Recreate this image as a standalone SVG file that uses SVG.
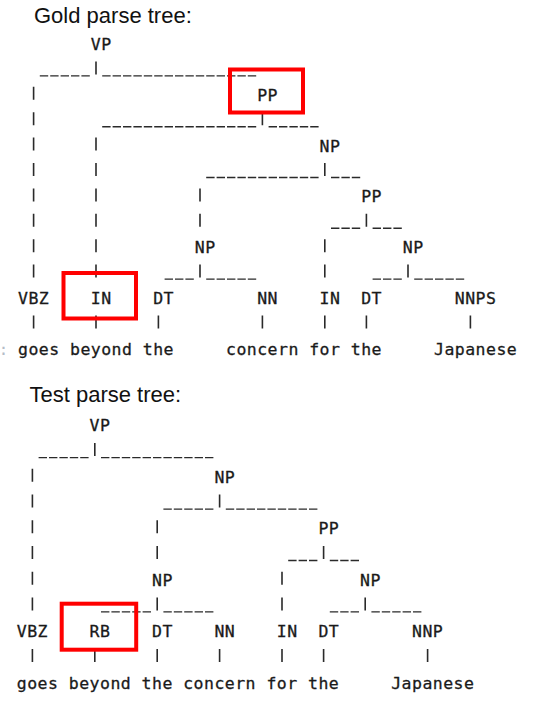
<svg xmlns="http://www.w3.org/2000/svg" width="535" height="704" viewBox="0 0 535 704">
<style>
.h{font-family:"Liberation Sans",Arial,sans-serif;font-size:22px;fill:#111}
.t{font-family:"DejaVu Sans Mono","Liberation Mono",monospace;font-size:16.5px;letter-spacing:0.47px;fill:#1a1a1a;stroke:#1a1a1a;stroke-width:0.3}
.pipe{stroke:#2a2a2a;stroke-width:1.6;fill:none}
.us{stroke:#2a2a2a;stroke-width:1.4;fill:none;stroke-dasharray:8.4 2}
.box{fill:none;stroke:#ff0000;stroke-width:4}
</style>
<rect width="535" height="704" fill="#ffffff"/>
<text class="h" x="34" y="23">Gold parse tree:</text>
<text class="h" x="29.5" y="402">Test parse tree:</text>

<g id="gold-connectors">
<path class="pipe" d="M96 61.4v13 M33.6 86.8v13 M33.6 112.2v13 M262.4 112.2v13 M33.6 137.6v13 M96 137.6v13 M33.6 163v13 M96 163v13 M324.8 163v13 M33.6 188.4v13 M96 188.4v13 M200 188.4v13 M33.6 213.8v13 M96 213.8v13 M200 213.8v13 M366.4 213.8v13 M33.6 239.2v13 M96 239.2v13 M324.8 239.2v13 M33.6 264.6v13 M96 264.6v13 M324.8 264.6v13 M200 264.6v13 M408 264.6v13 M33.6 315.4v13 M96 315.4v13 M158.4 315.4v13 M262.4 315.4v13 M324.8 315.4v13 M366.4 315.4v13 M470.4 315.4v13"/>
<path class="us" d="M39.8 75.9H89.8 M102.2 75.9H256.2 M102.2 126.7H256.2 M268.6 126.7H318.6 M206.2 177.5H318.6 M331 177.5H360.2 M331 228.3H360.2 M372.6 228.3H401.8 M164.6 279.1H193.8 M206.2 279.1H256.2 M372.6 279.1H401.8 M414.2 279.1H464.2"/>
</g>

<g id="gold-nodes">
<g id="g-vp"><text class="t" x="90.8" y="50">VP</text></g>
<g id="g-pp1"><text class="t" x="257.2" y="100.8">PP</text></g>
<g id="g-np1"><text class="t" x="319.6" y="151.6">NP</text></g>
<g id="g-pp2"><text class="t" x="361.2" y="202.4">PP</text></g>
<g id="g-np2"><text class="t" x="194.8" y="253.2">NP</text></g>
<g id="g-np3"><text class="t" x="402.8" y="253.2">NP</text></g>
<g id="g-vbz"><text class="t" x="18" y="304">VBZ</text></g>
<g id="g-in1"><text class="t" x="90.8" y="304">IN</text></g>
<g id="g-dt1"><text class="t" x="153.2" y="304">DT</text></g>
<g id="g-nn"><text class="t" x="257.2" y="304">NN</text></g>
<g id="g-in2"><text class="t" x="319.6" y="304">IN</text></g>
<g id="g-dt2"><text class="t" x="361.2" y="304">DT</text></g>
<g id="g-nnps"><text class="t" x="454.8" y="304">NNPS</text></g>
<g id="g-w-colon"><text class="t" x="-1.5" y="354.8" style="fill:#b4bcc8;stroke:none">:</text></g>
<g id="g-w1"><text class="t" x="18" y="354.8">goes</text></g>
<g id="g-w2"><text class="t" x="70" y="354.8">beyond</text></g>
<g id="g-w3"><text class="t" x="142.8" y="354.8">the</text></g>
<g id="g-w4"><text class="t" x="226" y="354.8">concern</text></g>
<g id="g-w5"><text class="t" x="309.2" y="354.8">for</text></g>
<g id="g-w6"><text class="t" x="350.8" y="354.8">the</text></g>
<g id="g-w7"><text class="t" x="434" y="354.8">Japanese</text></g>
</g>

<g id="test-connectors">
<path class="pipe" d="M94.8 443.1v13 M32.4 468.8v13 M32.4 494.6v13 M219.6 494.6v13 M32.4 520.3v13 M157.2 520.3v13 M32.4 546v13 M157.2 546v13 M323.6 546v13 M32.4 571.7v13 M282 571.7v13 M32.4 597.4v13 M282 597.4v13 M157.2 597.4v13 M365.2 597.4v13 M32.4 648.9v13 M94.8 648.9v13 M157.2 648.9v13 M219.6 648.9v13 M282 648.9v13 M323.6 648.9v13 M427.6 648.9v13"/>
<path class="us" d="M38.6 457.6H88.6 M101 457.6H213.4 M163.4 509.1H213.4 M225.8 509.1H317.4 M288.2 560.5H317.4 M329.8 560.5H359 M101 611.9H151 M163.4 611.9H213.4 M329.8 611.9H359 M371.4 611.9H421.4"/>
</g>

<g id="test-nodes">
<g id="t-vp"><text class="t" x="89.6" y="431.4">VP</text></g>
<g id="t-np1"><text class="t" x="214.4" y="482.8">NP</text></g>
<g id="t-pp"><text class="t" x="318.4" y="534.3">PP</text></g>
<g id="t-np2"><text class="t" x="152" y="585.7">NP</text></g>
<g id="t-np3"><text class="t" x="360" y="585.7">NP</text></g>
<g id="t-vbz"><text class="t" x="16.8" y="637.2">VBZ</text></g>
<g id="t-rb"><text class="t" x="89.6" y="637.2">RB</text></g>
<g id="t-dt1"><text class="t" x="152" y="637.2">DT</text></g>
<g id="t-nn"><text class="t" x="214.4" y="637.2">NN</text></g>
<g id="t-in"><text class="t" x="276.8" y="637.2">IN</text></g>
<g id="t-dt2"><text class="t" x="318.4" y="637.2">DT</text></g>
<g id="t-nnp"><text class="t" x="412" y="637.2">NNP</text></g>
<g id="t-w1"><text class="t" x="16.8" y="688.6">goes</text></g>
<g id="t-w2"><text class="t" x="68.8" y="688.6">beyond</text></g>
<g id="t-w3"><text class="t" x="141.6" y="688.6">the</text></g>
<g id="t-w4"><text class="t" x="183.2" y="688.6">concern</text></g>
<g id="t-w5"><text class="t" x="266.4" y="688.6">for</text></g>
<g id="t-w6"><text class="t" x="308" y="688.6">the</text></g>
<g id="t-w7"><text class="t" x="391.2" y="688.6">Japanese</text></g>
</g>

<g id="highlights">
<rect class="box" x="230" y="69.5" width="73" height="43"/>
<rect class="box" x="63.5" y="273" width="72.5" height="45.5"/>
<rect class="box" x="61.7" y="603.7" width="74.5" height="46"/>
</g>
</svg>
